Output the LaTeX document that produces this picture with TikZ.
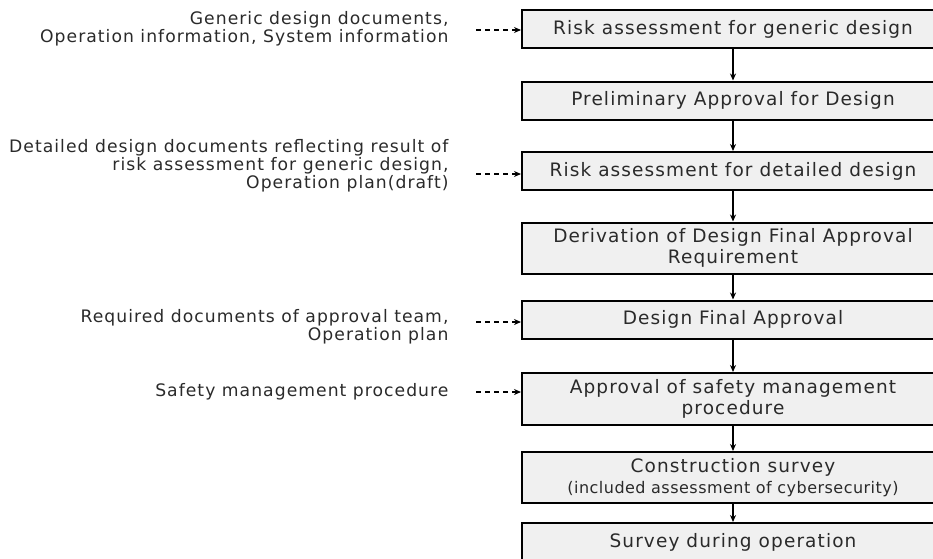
\documentclass[tikz,border=0pt]{standalone}
\usepackage{fontspec}
\setmainfont{DejaVu Sans}[LetterSpace=6]
\newfontfamily\notefont{DejaVu Sans}[LetterSpace=3]
\usetikzlibrary{arrows.meta}

\definecolor{boxgray}{HTML}{F0F0F0}
\definecolor{inktext}{HTML}{2A2A2A}

\tikzset{
    stagebox/.style={draw, line width=2pt, fill=boxgray, text=inktext,
        minimum width=422pt, minimum height=38pt, inner sep=2pt,
        align=center, font=\fontsize{18.5}{21}\selectfont},
    inputtext/.style={anchor=east, align=right, text=inktext,
        font=\fontsize{17.2}{18}\selectfont},
    flow/.style={-{Stealth[length=7pt,width=6pt]}, line width=1.1pt},
    feed/.style={-{Stealth[length=7pt,width=6pt]}, line width=1.1pt,
        dash pattern=on 5pt off 4pt}
}

\begin{document}
\begin{tikzpicture}[x=1pt, y=-1pt]

        \useasboundingbox (0,0) rectangle (933,558);

        % the approval steps
        \node[stagebox] (generic) at (733,29) {Risk assessment for generic design};
        \node[stagebox] (prelim) at (733,100.5) {Preliminary Approval for Design};
        \node[stagebox] (detailed) at (733,171) {Risk assessment for detailed design};
        \node[stagebox, minimum height=51pt] (derive) at (733,248)
            {Derivation of Design Final Approval\\Requirement};
        \node[stagebox] (final) at (733,319.5) {Design Final Approval};
        \node[stagebox, minimum height=52pt] (safety) at (733,399)
            {Approval of safety management\\procedure};
        \node[stagebox, minimum height=51pt] (construct) at (733,477.5)
            {Construction survey\\{\notefont\fontsize{16}{18}\selectfont(included assessment of cybersecurity)}};
        \node[stagebox] (operate) at (733,542) {Survey during operation};

        \foreach \a/\b in {generic/prelim, prelim/detailed, detailed/derive,
            derive/final, final/safety, safety/construct, construct/operate}
            \draw[flow] (\a) -- (\b);

        % inputs on the left
        \node[inputtext] (in1) at (452,29)
            {Generic design documents,\\Operation information, System information};
        \node[inputtext] (in2) at (452,166)
            {Detailed design documents reflecting result of\\risk assessment for generic design,\\Operation plan(draft)};
        \node[inputtext] (in3) at (452,327)
            {Required documents of approval team,\\Operation plan};
        \node[inputtext] (in4) at (452,392) {Safety management procedure};

        \foreach \n/\b/\y in {in1/generic/30, in2/detailed/174, in3/final/322, in4/safety/392} {
            \coordinate (\n s) at (476,\y);
            \draw[feed] (\n s) -- (\b.west |- \n s);
        }
    \end{tikzpicture}
\end{document}
